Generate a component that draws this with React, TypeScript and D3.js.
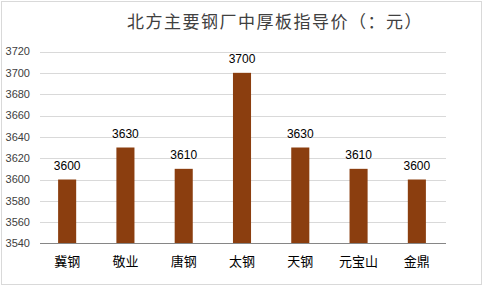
import React from "react";
import * as d3 from "d3";

const categories = ["冀钢", "敬业", "唐钢", "太钢", "天钢", "元宝山", "金鼎"];
const values = [3600, 3630, 3610, 3700, 3630, 3610, 3600];
const yTicks = [3540, 3560, 3580, 3600, 3620, 3640, 3660, 3680, 3700, 3720];
const title = "北方主要钢厂中厚板指导价（：元）";

export default function App() {
  const W = 483, H = 286;
  const x = d3.scaleBand<string>().domain(categories).range([38, 446]).paddingInner(0.69).paddingOuter(0.345);
  const y = d3.scaleLinear().domain([3540, 3720]).range([243.5, 51.5]);
  const num = "'Liberation Sans', Arial, sans-serif";
  const cjk = "'Noto Sans CJK SC', sans-serif";
  return (
    <svg width={W} height={H} style={{ position: "absolute", left: 0, top: 0 }}>
      <rect x={0} y={0} width={W} height={H} fill="#fff" />
      <rect x={1.5} y={1.5} width={480} height={283} fill="none" stroke="#d9d9d9" strokeWidth={1} />
      <text x={275} y={28} textAnchor="middle" fontFamily={cjk} fontSize={17} letterSpacing={1.5} fill="#404040">{title}</text>
      {yTicks.map((t) => (
        <g key={t}>
          {t !== 3540 && <line x1={40} x2={446} y1={Math.round(y(t)) + 0.5} y2={Math.round(y(t)) + 0.5} stroke="#d9d9d9" />}
          <text x={30} y={y(t)} dy="0.35em" textAnchor="end" fontFamily={num} fontSize={11} fill="#404040">{t}</text>
        </g>
      ))}
      {categories.map((c, i) => (
        <g key={c}>
          <rect x={x(c)!} y={y(values[i])} width={x.bandwidth()} height={y(3540) - y(values[i])} fill="#8B3E0F" />
          <text x={x(c)! + x.bandwidth() / 2} y={y(values[i]) - 9.5} textAnchor="middle" fontFamily={num} fontSize={12} fill="#000">{values[i]}</text>
          <text x={x(c)! + x.bandwidth() / 2} y={266} textAnchor="middle" fontFamily={cjk} fontSize={13} fill="#000">{c}</text>
        </g>
      ))}
      <line x1={40} x2={446} y1={243.5} y2={243.5} stroke="#868686" />
    </svg>
  );
}
